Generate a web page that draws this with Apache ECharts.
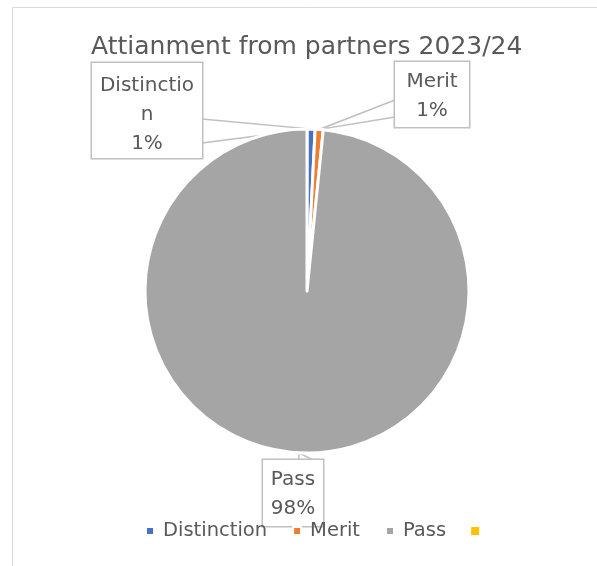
<!DOCTYPE html>
<html>
<head>
<meta charset="utf-8">
<script src="https://cdn.jsdelivr.net/npm/echarts@6/dist/echarts.min.js"></script>
<style>
  html, body { margin: 0; padding: 0; background: #fff; }
  #chart { width: 597px; height: 566px; }
</style>
</head>
<body>
<div id="chart"></div>
<script>
// ---- data ----
const chartTitle = 'Attianment from partners 2023/24';
const categories = ['Distinction', 'Merit', 'Pass'];
const shares = [0.8, 0.8, 98.4];          // percent of students
const legendOnlyEntry = '\u00a0';         // unnamed fourth entry, legend only

// ---- styling ----
const palette = ['#4472C4', '#ED7D31', '#A5A5A5', '#FFC000'];
const FONT = 'DejaVu Sans';
const TEXT = '#595959';
const LINE = '#c0c0c0';
const LABEL_LINE_HEIGHT = 29;

// callout boxes: top-left corner, inner text width, padding, where the pointer leaves the box
const callouts = [
  { x: 92,  y: 63,  width: 96, padding: [8, 7, 0, 7], side: 'right', base: [56, 80] },
  { x: 395, y: 62,  width: 60, padding: [5, 7, 2, 7], side: 'left',  base: [38, 55] },
  { x: 263, y: 460, width: 48, padding: [5, 6, 3, 6], side: 'top',   base: [0, 14] }
];

const pieData = categories.map((name, i) => ({
  name: name,
  value: shares[i],
  itemStyle: { color: palette[i] },
  label: { width: callouts[i].width, padding: callouts[i].padding }
}));
pieData.push({
  name: legendOnlyEntry,
  value: 0,
  itemStyle: { color: palette[3], borderWidth: 0 },
  label: { show: false },
  labelLine: { show: false }
});

const chart = echarts.init(document.getElementById('chart'), null, { renderer: 'canvas' });

chart.setOption({
  animation: false,
  backgroundColor: '#fff',
  title: {
    text: chartTitle,
    left: 91,
    top: 35,
    padding: 0,
    textStyle: { fontFamily: FONT, fontSize: 25, fontWeight: 'normal', color: TEXT }
  },
  graphic: [{
    type: 'rect',
    silent: true,
    shape: { x: 12.5, y: 7.5, width: 700, height: 700 },
    style: { fill: 'none', stroke: '#d9d9d9', lineWidth: 1 }
  }],
  legend: {
    data: categories.concat([legendOnlyEntry]),
    left: 145,
    top: 521,
    padding: 0,
    icon: 'rect',
    itemWidth: 8,
    itemHeight: 8,
    itemGap: 25,
    selectedMode: false,
    textStyle: { fontFamily: FONT, fontSize: 19.5, color: TEXT, padding: [0, 0, 0, 4] }
  },
  series: [{
    type: 'pie',
    center: [307, 291],
    radius: 162,
    startAngle: 90,
    clockwise: true,
    percentPrecision: 0,
    avoidLabelOverlap: false,
    emphasis: { disabled: true },
    itemStyle: { borderColor: '#fff', borderWidth: 3 },
    label: {
      show: true,
      position: 'outside',
      formatter: '{b}\n{d}%',
      fontFamily: FONT,
      fontSize: 20,
      color: TEXT,
      lineHeight: LABEL_LINE_HEIGHT,
      overflow: 'breakAll',
      backgroundColor: '#fff',
      borderColor: LINE,
      borderWidth: 1.5
    },
    labelLine: {
      show: true,
      length: 10,
      length2: 10,
      lineStyle: { color: LINE, width: 1.5 }
    },
    labelLayout: function (p) {
      const c = callouts[p.dataIndex];
      if (!c) return {};
      const boxW = c.width + c.padding[1] + c.padding[3];
      const tip = p.labelLinePoints ? p.labelLinePoints[0].slice() : null;
      let pts;
      if (tip) {
        if (c.side === 'right') {
          const ex = c.x + boxW;
          pts = [[ex, c.y + c.base[0]], tip, [ex, c.y + c.base[1]]];
        } else if (c.side === 'left') {
          pts = [[c.x, c.y + c.base[0]], tip, [c.x, c.y + c.base[1]]];
        } else {
          pts = [[tip[0], c.y], tip, [tip[0] + c.base[1], c.y]];
        }
      }
      const out = { x: c.x + boxW / 2, y: c.y, align: 'center', verticalAlign: 'top' };
      if (pts) out.labelLinePoints = pts;
      return out;
    },
    data: pieData
  }]
});
</script>
</body>
</html>
